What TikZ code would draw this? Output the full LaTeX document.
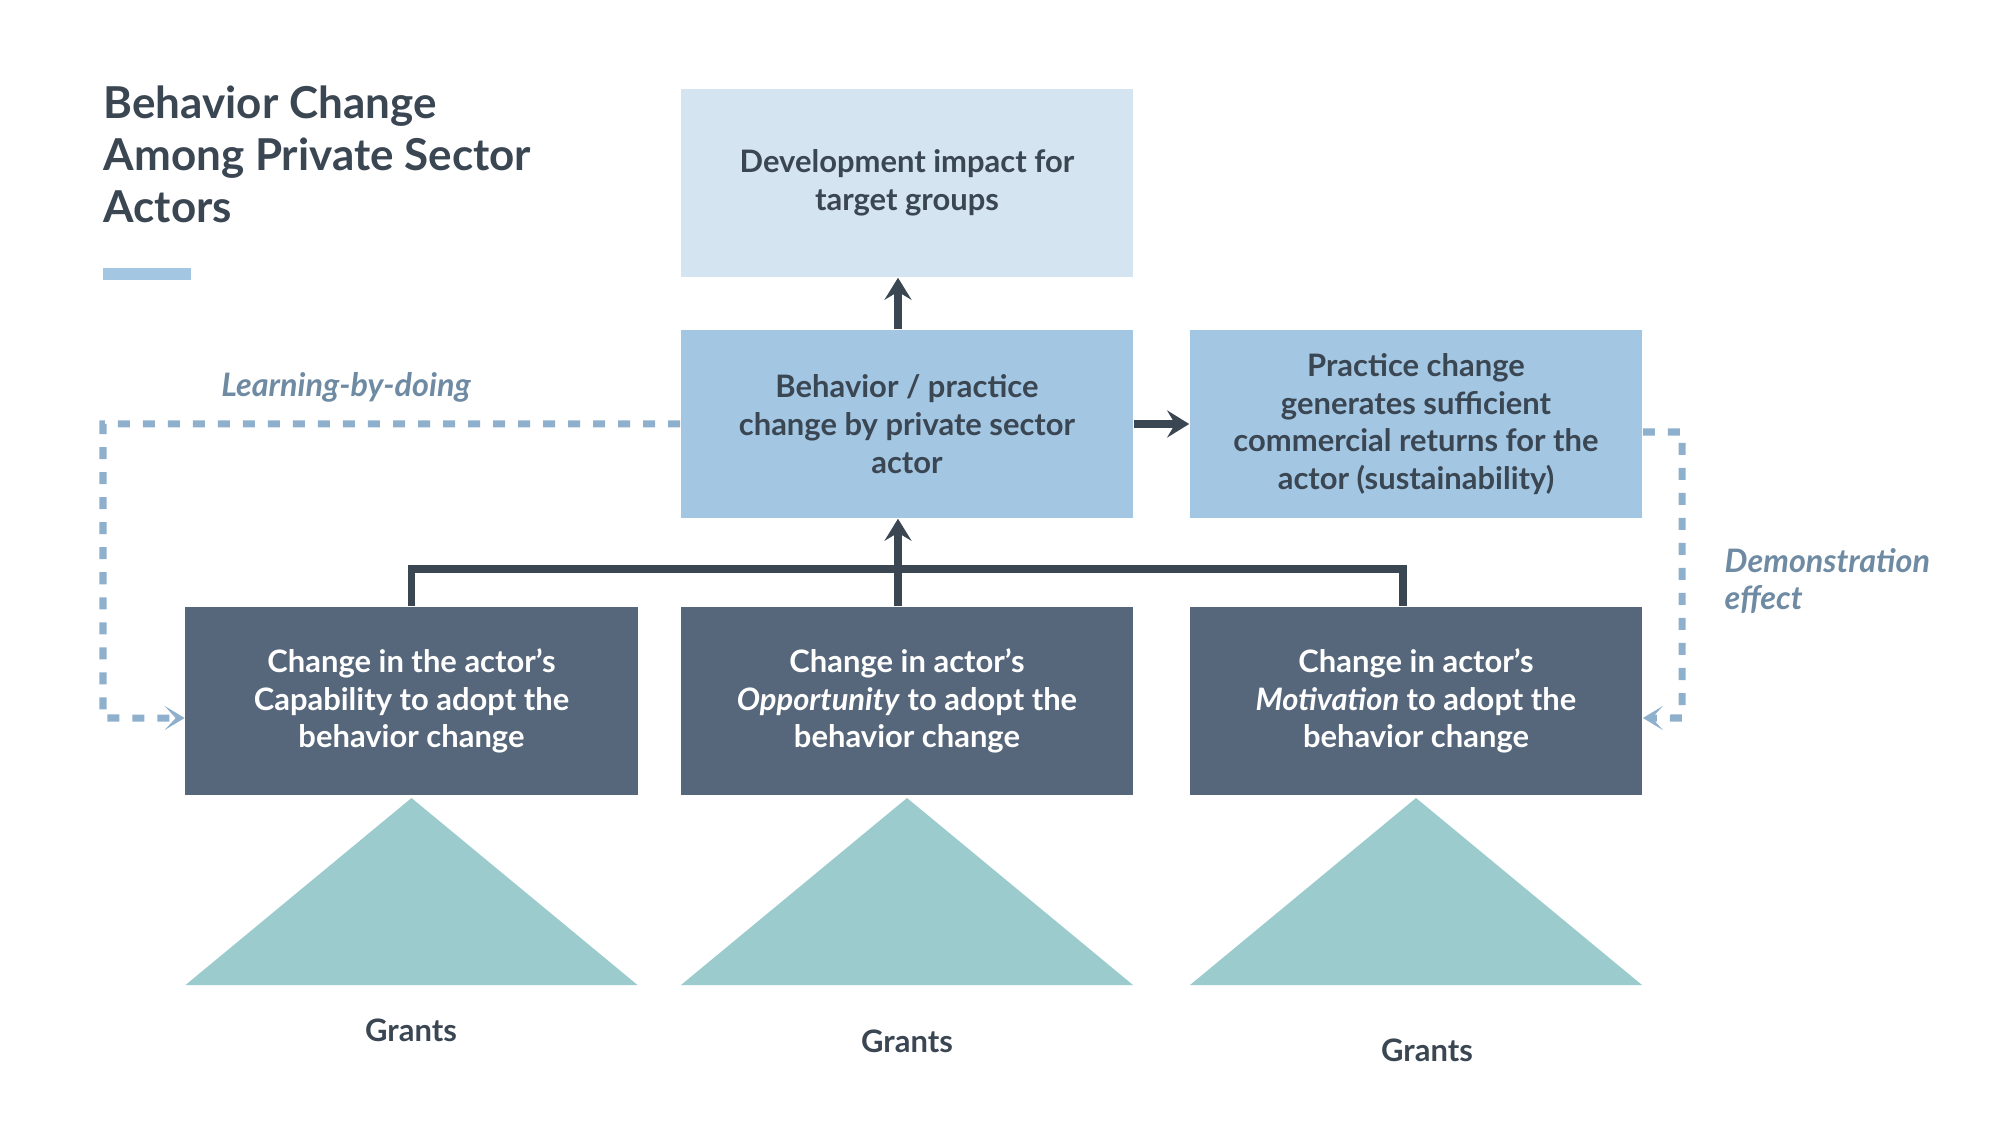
\documentclass[tikz,border=0pt]{standalone}
\usepackage{fontspec}
\setmainfont{Lato}
\usetikzlibrary{arrows.meta}

\definecolor{inkdark}{HTML}{3B4653}
\definecolor{paleblue}{HTML}{D4E4F1}
\definecolor{midblue}{HTML}{A3C6E2}
\definecolor{slate}{HTML}{56677B}
\definecolor{grantteal}{HTML}{9BCBCC}
\definecolor{dashblue}{HTML}{8FB0CC}
\definecolor{notegray}{HTML}{6F8BA3}

\def\boxfont{\bfseries\fontsize{8.8}{10.7}\selectfont}

\begin{document}
\begin{tikzpicture}[x=0.01cm, y=-0.01cm,
    box/.style={minimum width=4.52cm, minimum height=1.88cm, inner sep=0pt, align=center, font=\boxfont, text=inkdark},
    outcome/.style={box, fill=paleblue},
    change/.style={box, fill=midblue},
    driver/.style={box, fill=slate, text=white},
    link/.style={draw=inkdark, line width=0.075cm},
    tip/.style={-{Stealth[length=0.22cm, width=0.27cm, inset=0.08cm]}},
    feedback/.style={draw=dashblue, line width=0.07cm, dash pattern=on 0.12cm off 0.13cm,
      -{Stealth[length=0.2cm, width=0.24cm, inset=0.11cm]}},
    note/.style={font=\bfseries\itshape\fontsize{9.2}{10.5}\selectfont, text=notegray, inner sep=0pt},
    grantlabel/.style={font=\boxfont, text=inkdark, inner sep=0pt},
    title/.style={font=\bfseries\fontsize{12.5}{14.8}\selectfont, text=inkdark, align=left, inner sep=0pt}]
  \useasboundingbox (0,0) rectangle (2000,1125);

  \node[title, anchor=base west] (heading) at (103,223) {Behavior Change\\Among Private Sector\\Actors};
  \fill[midblue] (103,268) rectangle (191,280);

  \node[outcome] (dev) at (907,183) {Development impact for\\target groups};
  \node[change] (behav) at (907,424) {Behavior / practice\\change by private sector\\actor};
  \node[change] (pract) at (1416,424) {Practice change\\generates sufficient\\commercial returns for the\\actor (sustainability)};
  \node[driver] (cap) at (411.5,701) {Change in the actor’s\\Capability to adopt the\\behavior change};
  \node[driver] (opp) at (907,701) {Change in actor’s\\\textit{Opportunity} to adopt the\\behavior change};
  \node[driver] (mot) at (1416,701) {Change in actor’s\\\textit{Motivation} to adopt the\\behavior change};

  \foreach \cx in {411.5,907,1416}
    \fill[grantteal] (\cx,798) -- (\cx+226,985) -- (\cx-226,985) -- cycle;
  \node[grantlabel] (grantcap) at (411,1030) {Grants};
  \node[grantlabel] (grantopp) at (907,1041) {Grants};
  \node[grantlabel] (grantmot) at (1427,1050) {Grants};

  \coordinate (bus) at (898,569);
  \draw[link] (cap.north) |- (bus) -| ([xshift=-0.13cm]mot.north);
  \draw[link,tip] ([xshift=-0.09cm]opp.north) -- ([xshift=-0.09cm]behav.south);
  \draw[link,tip] ([xshift=-0.09cm]behav.north) -- ([xshift=-0.09cm]dev.south);
  \draw[link,tip] (behav.east) -- (pract.west);

  \coordinate (lbdturn) at (103,718);
  \coordinate (demoturn) at (1682,718);
  \draw[feedback] (behav.west) -| (lbdturn) -- ([yshift=-0.17cm]cap.west);
  \draw[feedback] ([yshift=-0.08cm]pract.east) -| (demoturn) -- ([yshift=-0.17cm]mot.east);

  \node[note] (learn) at (346,387) {Learning-by-doing};
  \node[note, anchor=west, align=left] (demo) at (1724,581) {Demonstration\\effect};
\end{tikzpicture}
\end{document}
